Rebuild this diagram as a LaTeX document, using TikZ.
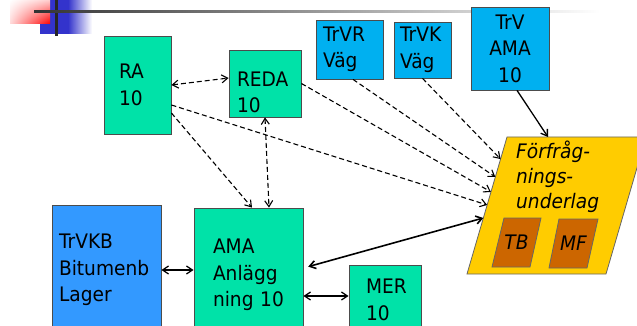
\documentclass[tikz,border=0pt]{standalone}
\usepackage{fontspec}
\setmainfont{DejaVu Sans}[FakeStretch=0.93]
\usetikzlibrary{arrows.meta, calc, shadings}
\definecolor{boxgreen}{RGB}{0,226,168}
\definecolor{trvblue}{RGB}{0,176,240}
\definecolor{kbblue}{RGB}{51,153,255}
\definecolor{ffyellow}{RGB}{255,204,0}
\definecolor{ffbrown}{RGB}{204,102,0}
\definecolor{hdblue}{RGB}{51,51,204}
\tikzset{
  font={\fontsize{20pt}{26.5pt}\selectfont}}

\begin{document}
\begin{tikzpicture}[x=1pt, y=-1pt, >={Straight Barb[length=6pt,width=8pt]},
  box/.style={draw=black!70, line width=0.8pt, shape=rectangle, inner ysep=0pt, align=left},
  para/.style={draw=black!60, line width=0.8pt},
  dep/.style={dash pattern=on 5pt off 3pt, line width=1.1pt},
  conn/.style={line width=1.3pt},
  itxt/.style={font={\fontsize{20pt}{25pt}\selectfont\itshape}}]
  \useasboundingbox (0,0) rectangle (637,326);
  \clip (0,0) rectangle (637,326);
  % header (y axis points down, so the shading's upper and lower are swapped)
  \fill[hdblue] (40,0) rectangle (68,34);
  \shade[left color=hdblue, right color=white] (68,0) rectangle (92,34);
  \shade[lower right=red, lower left=red!15, upper right=red!20, upper left=white] (10,0) rectangle (50,24);
  \fill[black!85] (55,0) rectangle (58,36);
  \shade[left color=black!80, middle color=black!40, right color=white] (34,11) rectangle (600,13);
  % boxes
  \node (ra) [box, fill=boxgreen, minimum width=67pt, minimum height=98pt, inner xsep=15pt, text width=37pt] at (137.5,85) {RA\\10};
  \node (reda) [box, fill=boxgreen, minimum width=72pt, minimum height=67pt, inner xsep=8pt, text width=56pt, text depth=9pt] at (265,83.5) {REDA\\10};
  \node (trvr) [box, fill=trvblue, minimum width=67pt, minimum height=59pt, inner xsep=7pt, text width=53pt] at (349.5,49.5) {TrVR\\Väg};
  \node (trvk) [box, fill=trvblue, minimum width=57pt, minimum height=56pt, inner xsep=6pt, text width=45pt] at (422.5,50) {TrVK\\Väg};
  \node (trvama) [box, fill=trvblue, minimum width=78pt, minimum height=83pt, inner xsep=4pt, text width=70pt, align=center] at (510,48.5) {TrV\\AMA\\10};
  \node (trvkb) [box, fill=kbblue, minimum width=109pt, minimum height=130pt, inner xsep=7pt, text width=95pt] at (106.5,270) {TrVKB\\Bitumenb\\Lager};
  \node (ama) [box, fill=boxgreen, minimum width=109pt, minimum height=134pt, inner xsep=19pt, text width=71pt] at (248.5,275) {AMA\\Anlägg\\ning 10};
  \node (mer) [box, fill=boxgreen, minimum width=72pt, minimum height=70pt, inner xsep=17pt, text width=38pt] at (385,300) {MER\\10};
  % underlag
  \coordinate (ffbl) at (467,274);
  \coordinate (fftl) at (507,137);
  \coordinate (fftr) at (646,137);
  \coordinate (ffbr) at (606,274);
  \filldraw[para, fill=ffyellow] (ffbl) -- (fftl) -- (fftr) -- (ffbr) -- cycle;
  \node (fftxt) [itxt, anchor=north west, inner sep=0pt, align=left] at (516,141) {Förfråg-\\nings-\\underlag};
  \filldraw[para, fill=ffbrown] (492,267) -- (504,218) -- (541,218) -- (530,267) -- cycle;
  \node (tb) [itxt] at (516.5,242.5) {TB};
  \filldraw[para, fill=ffbrown] (549,268) -- (559,219) -- (598,219) -- (587,268) -- cycle;
  \node (mf) [itxt] at (573.5,243.5) {MF};
  % connectors
  \draw[dep, <->] (ra.east) -- ([yshift=5.5pt]reda.west);
  \draw[dep, ->] ([yshift=-20pt]ra.east) -- ($(ffbl)!0.504!(fftl)$);
  \draw[dep, ->] ([yshift=-28pt]ra.east) -- ([xshift=3.5pt]ama.north);
  \draw[dep, <->] (reda.south) -- ([xshift=20.5pt]ama.north);
  \draw[dep, ->] (reda.east) -- ($(ffbl)!0.599!(fftl)$);
  \draw[dep, ->] ([xshift=3.5pt]trvr.south) -- ($(ffbl)!0.708!(fftl)$);
  \draw[dep, ->] (trvk.south) -- ($(ffbl)!0.839!(fftl)$);
  \draw[conn, ->] ([xshift=7pt]trvama.south) -- ($(fftl)!0.295!(fftr)$);
  \draw[conn, <->, line width=1.6pt, shorten <=5pt] ([yshift=7pt]ama.east) -- ($(ffbl)!0.409!(fftl)$);
  \draw[conn, <->] (trvkb.east) -- (trvkb.east -| ama.west);
  \draw[conn, <->] ([yshift=4pt]mer.west -| ama.east) -- ([yshift=4pt]mer.west);
\end{tikzpicture}
\end{document}
